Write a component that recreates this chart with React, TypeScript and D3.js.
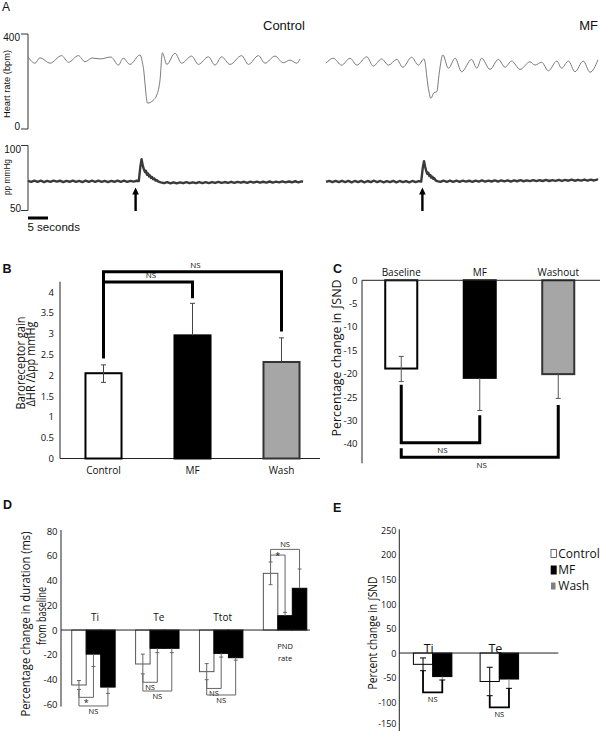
import React from "react";
import * as d3 from "d3";

const FA = "'Liberation Sans', Arial, Helvetica, sans-serif";
const FB = "'Open Sans', Lato, 'Liberation Sans', sans-serif";

// ================= Panel A: traces (time in s, value) =================
const hrControl: [number, number][] = [
  [0, 304], [1.75, 277], [3, 300], [5.5, 277], [8.4, 309], [10.1, 281], [12.6, 309], [14.25, 283],
  [16, 299], [18, 295], [20.75, 303], [22.6, 269], [23.8, 298], [25.5, 272], [28, 312], [28.8, 262],
  [29.9, 109], [31.3, 121], [32.2, 143], [33, 206], [33.6, 321], [34.7, 272], [36.75, 319], [38.4, 277],
  [40.9, 307], [42.6, 272], [45.1, 304], [46.75, 269], [48.4, 304], [50.5, 272], [53.4, 309], [55.1, 272],
  [57.6, 309], [59.25, 277], [61.75, 307], [63.8, 279], [65.5, 290], [67.2, 277], [68, 295],
];
const hrMF: [number, number][] = [
  [0, 277], [1.8, 298], [3.9, 269], [6, 298], [7.7, 269], [10.2, 304], [11.8, 265], [13.9, 295],
  [15.6, 269], [17.7, 293], [19.2, 260], [21.4, 302], [23.1, 269], [24.5, 295], [25.6, 171], [26.2, 129],
  [27, 153], [27.7, 157], [28.3, 235], [29.2, 312], [30.6, 256], [32.3, 298], [33.9, 241], [36.4, 293],
  [37.7, 256], [38.9, 298], [41, 251], [43.1, 293], [44.75, 260], [46.4, 286], [48.5, 251], [51, 283],
  [52.25, 269], [53.9, 281], [55.6, 245], [57.7, 286], [58.9, 256], [60.6, 286], [62.25, 241], [64.3, 286],
  [66, 239], [68, 291],
];
const ppControl: [number, number][] = [
  [0, 72.8], [0.8, 72.0], [1.6, 73.0], [2.4, 72.1], [3.2, 72.9], [4, 71.9], [4.8, 72.8], [5.6, 72.0],
  [6.4, 73.0], [7.2, 72.2], [8, 72.9], [8.8, 71.9], [9.6, 72.8], [10.4, 72.1], [11.2, 73.0], [12, 72.0],
  [12.8, 72.8], [13.6, 71.9], [14.4, 72.9], [15.2, 72.0], [16, 72.9], [16.8, 72.1], [17.6, 73.0], [18.4, 72.0],
  [19.2, 72.8], [20, 71.9], [20.8, 72.8], [21.6, 72.1], [22.4, 73.0], [23.2, 72.1], [24, 72.9], [24.8, 72.0],
  [25.6, 72.8], [26.4, 72.2], [27.2, 72.9], [27.7, 72.6],
  [28.1, 84], [28.4, 89.5], [28.7, 84.5], [29.0, 81.5], [29.25, 79.5], [29.5, 80.5], [29.75, 77.5], [30.0, 78.5],
  [30.25, 76.2], [30.5, 77.0], [30.75, 75.0], [31.0, 75.8], [31.3, 74.0], [31.6, 74.6], [31.9, 73.0], [32.2, 73.4],
  [32.6, 72.2], [33.2, 71.6], [34, 71.0], [34.8, 71.8], [35.6, 70.9], [36.4, 71.7], [37.2, 70.9], [38, 71.6],
  [38.8, 71.0], [39.6, 71.8], [40.4, 71.0], [41.2, 71.7], [42, 71.0], [42.8, 71.9], [43.6, 71.1], [44.4, 71.8],
  [45.2, 71.1], [46, 71.9], [46.8, 71.2], [47.6, 72.0], [48.4, 71.2], [49.2, 71.9], [50, 71.3], [50.8, 72.1],
  [51.6, 71.3], [52.4, 72.0], [53.2, 71.4], [54, 72.1], [54.8, 71.3], [55.6, 72.2], [56.4, 71.5], [57.2, 72.2],
  [58, 71.4], [58.8, 72.1], [59.6, 71.5], [60.4, 72.3], [61.2, 71.5], [62, 72.2], [62.8, 71.6], [63.6, 72.4],
  [64.4, 71.6], [65.2, 72.3], [66, 71.7], [66.8, 72.5], [67.6, 71.7], [68.4, 72.4], [68.75, 72.0],
];
const ppMF: [number, number][] = [
  [0, 72.0], [0.8, 72.8], [1.6, 71.8], [2.4, 72.7], [3.2, 71.8], [4, 72.8], [4.8, 71.9], [5.6, 72.8],
  [6.4, 71.7], [7.2, 72.7], [8, 71.8], [8.8, 72.8], [9.6, 71.7], [10.4, 72.7], [11.2, 71.9], [12, 72.9],
  [12.8, 71.8], [13.6, 72.7], [14.4, 71.7], [15.2, 72.6], [16, 71.8], [16.8, 72.8], [17.6, 71.7], [18.4, 72.7],
  [19.2, 71.8], [20, 72.6], [20.8, 71.7], [21.6, 72.7], [22.4, 71.8], [23.2, 72.6], [23.8, 72.2],
  [24.2, 83], [24.5, 88], [24.8, 83.5], [25.1, 80], [25.35, 78], [25.6, 79], [25.85, 76.5], [26.1, 77.3],
  [26.35, 75.2], [26.6, 76.0], [26.85, 74.3], [27.1, 74.8], [27.4, 73.2], [27.8, 72.6],
  [28.6, 72.0], [29.4, 72.9], [30.2, 72.1], [31, 73.0], [31.8, 72.1], [32.6, 72.9], [33.4, 72.0], [34.2, 73.0],
  [35, 72.2], [35.8, 72.9], [36.6, 72.1], [37.4, 73.0], [38.2, 72.2], [39, 73.1], [39.8, 72.2], [40.6, 73.0],
  [41.4, 72.3], [42.2, 73.1], [43, 72.3], [43.8, 73.2], [44.6, 72.4], [45.4, 73.1], [46.2, 72.3], [47, 73.2],
  [47.8, 72.5], [48.6, 73.3], [49.4, 72.5], [50.2, 73.2], [51, 72.6], [51.8, 73.4], [52.6, 72.6], [53.4, 73.3],
  [54.2, 72.7], [55, 73.5], [55.8, 72.7], [56.6, 73.4], [57.4, 72.8], [58.2, 73.6], [59, 72.8], [59.8, 73.5],
  [60.6, 72.9], [61.4, 73.7], [62.2, 72.9], [63, 73.6], [63.8, 73.0], [64.6, 73.8], [65.4, 73.0], [66.2, 73.7],
  [67, 73.1], [67.8, 73.8], [68, 73.4],
];
const arrowTimes = [26.9, 24.1]; // control, MF
const hrTicks = [0, 400];
const ppTicks = [50, 100];
const scaleBarSeconds = 5;
const traceTitles = ["Control", "MF"];

// ================= Panel B =================
const bCategories = ["Control", "MF", "Wash"];
const bValues = [2.05, 2.96, 2.32];
const bErrUp = [0.2, 0.77, 0.58];
const bErrDown = [0.22, 0, 0];
const bTicks = [0, 0.5, 1, 1.5, 2, 2.5, 3, 3.5, 4];
const bBracketFrom = [0, 0];
const bBracketTo = [2, 1];
const bBracketLevel = [4.49, 4.24];
const bBracketFromEnd = [2.41, 2.41];
const bBracketToEnd = [3.05, 3.85];
const bBracketLabel = ["NS", "NS"];

// ================= Panel C =================
const cCategories = ["Baseline", "MF", "Washout"];
const cValues = [-18.9, -20.9, -20.1];
const cErrUp = [2.6, 0, 0];
const cErrDown = [2.8, 7.0, 5.2];
const cTickValues = [0, -5, -10, -15, -20, -25, -30, -35];
const cTickLabels = ["0", "-5", "-10", "-15", "-20", "-25", "-30", "-40"];
const cBracketTo = [1, 2];
const cBracketLevel = [-34.8, -37.9];
const cBracketFromEnd = [-22.4, -36.0];
const cBracketToEnd = [-28.9, -26.7];
const cBracketLabel = ["NS", "NS"];

// ================= Panel D =================
const dGroups = ["Ti", "Te", "Ttot", "PND rate"];
const dSeries = ["Control", "MF", "Wash"];
const dControl = [-44.5, -27.5, -33.7, 45.9];
const dMF = [-19.5, -14.8, -18.9, 11.6];
const dWash = [-46.2, -14.8, -22.4, 33.8];
const dControlErr = [3.6, 8.0, 6.5, 9.2];
const dMFErr = [10, 3.5, 3, 2.7];
const dWashErr = [5.1, 3.5, 2, 15.6];
const dTicks = [80, 60, 40, 20, 0, -20, -40, -60];
const dBracketGroup = [0, 0, 1, 1, 2, 2, 3, 3];
const dBracketTo = [1, 2, 1, 2, 1, 2, 1, 2];
const dBracketLevel = [-54.5, -61.5, -42.3, -49.4, -47.3, -52.6, 60.7, 65.3];
const dBracketLabel = ["*", "NS", "NS", "NS", "NS", "NS", "*", "NS"];

// ================= Panel E =================
const eGroups = ["Ti", "Te"];
const eControl = [-23, -58];
const eMF = [-48, -53];
const eControlErr = [13, 29];
const eMFErr = [7, 19];
const eTicks = [250, 200, 150, 100, 50, 0, -50, -100, -150];
const eBracketLevel = [-80.2, -110.8];
const eBracketLabel = ["NS", "NS"];
const legendLabels = ["Control", "MF", "Wash"];

function VLabel({ x, y, text, size, len, family }: any) {
  return (
    <text transform={`translate(${x},${y}) rotate(-90)`} textAnchor="middle" fontSize={size}
      fontFamily={family} textLength={len} lengthAdjust="spacingAndGlyphs" fill="#111">{text}</text>
  );
}

export default function App() {
  // ---------- Panel A ----------
  const xCtl = d3.scaleLinear().domain([0, 68]).range([28, 300]);
  const xMF = d3.scaleLinear().domain([0, 68]).range([326, 598]);
  const yHR = d3.scaleLinear().domain([0, 400]).range([129, 34]);
  const yPP = d3.scaleLinear().domain([50, 100]).range([210.5, 145.5]);
  const hrPath = (xs: any) => d3.line<[number, number]>().x(d => xs(d[0])).y(d => yHR(d[1])).curve(d3.curveMonotoneX);
  const ppPath = (xs: any) => d3.line<[number, number]>().x(d => xs(d[0])).y(d => yPP(d[1])).curve(d3.curveLinear);
  const arrow = (x: number) => {
    const tip = 187.5, bot = 211;
    return `M${x - 1.2},${bot} L${x - 1.2},${tip + 7} L${x - 3.3},${tip + 7} L${x},${tip} L${x + 3.3},${tip + 7} L${x + 1.2},${tip + 7} L${x + 1.2},${bot} Z`;
  };

  // ---------- Panel B ----------
  const xB = d3.scaleBand<string>().domain(bCategories).range([59, 326]).paddingInner(0.595).paddingOuter(0.2975);
  const yB = d3.scaleLinear().domain([0, 4.25]).range([458.5, 281.7]);
  const bFill = ["#fff", "#000", "#a6a6a6"];
  const bStroke = ["#000", "#000", "#333"];
  const bc = (i: number) => (xB(bCategories[i]) as number) + xB.bandwidth() / 2;

  // ---------- Panel C ----------
  const xC = d3.scaleBand<string>().domain(cCategories).range([362, 597.5]).paddingInner(0.592).paddingOuter(0.296);
  const yC = d3.scaleLinear().domain([-39.2, 0]).range([463.3, 280.3]);
  const cc = (i: number) => (xC(cCategories[i]) as number) + xC.bandwidth() / 2;

  // ---------- Panel D ----------
  const xD = d3.scaleBand<string>().domain(dGroups).range([61.5, 317]).paddingInner(0.32).paddingOuter(0.16);
  const xDi = d3.scaleBand<string>().domain(dSeries).range([0, xD.bandwidth()]).padding(0);
  const yD = d3.scaleLinear().domain([-62, 81]).range([706.6, 530]);
  const dVals = [dControl, dMF, dWash];
  const dErrs = [dControlErr, dMFErr, dWashErr];
  const dFill = ["#fff", "#000", "#000"];
  const dx = (g: number, s: number) => (xD(dGroups[g]) as number) + (xDi(dSeries[s]) as number) + xDi.bandwidth() / 2;
  const dEnd = (g: number, s: number) => {
    const v = dVals[s][g], e = dErrs[s][g];
    return v < 0 ? v - e : v + e;
  };

  // ---------- Panel E ----------
  const xE = d3.scaleBand<string>().domain(eGroups).range([399.3, 532.7]).paddingInner(0.423).paddingOuter(0.2115);
  const xEi = d3.scaleBand<string>().domain(["Control", "MF"]).range([0, xE.bandwidth()]).padding(0);
  const yE = d3.scaleLinear().domain([-159, 252.4]).range([731, 529.3]);
  const eVals = [eControl, eMF];
  const ex = (g: number, s: number) => (xE(eGroups[g]) as number) + (xEi(s === 0 ? "Control" : "MF") as number) + xEi.bandwidth() / 2;

  const cap = (x: number, y: number, w: number, color: string) => (
    <line x1={x - w} x2={x + w} y1={y} y2={y} stroke={color} strokeWidth={1} />
  );

  return (
    <svg width={600} height={731} style={{ position: "absolute", left: 0, top: 0, background: "#fff" }}>
      <rect x={0} y={0} width={600} height={731} fill="#fff" />

      {/* ================= Panel A ================= */}
      <g fontFamily={FA} fill="#111">
        <text x={2} y={10.5} fontSize={12}>A</text>
        <text x={263} y={29.5} fontSize={13}>{traceTitles[0]}</text>
        <text x={598} y={29.5} fontSize={13} textAnchor="end">{traceTitles[1]}</text>
        {/* HR axis */}
        <path d={`M21,${yHR(400)} H28 V${yHR(0)} H21`} fill="none" stroke="#333" strokeWidth={1} />
        <text x={20} y={yHR(hrTicks[1]) + 7} fontSize={10} textAnchor="end">{hrTicks[1]}</text>
        <text x={20} y={yHR(hrTicks[0]) + 1} fontSize={10} textAnchor="end">{hrTicks[0]}</text>
        <VLabel x={9.5} y={84} text="Heart rate (bpm)" size={9.5} len={68} family={FA} />
        {/* PP axis */}
        <path d={`M21,${yPP(100)} H28 V${yPP(50)} H21`} fill="none" stroke="#333" strokeWidth={1} />
        <text x={21} y={yPP(ppTicks[1]) + 7} fontSize={10} textAnchor="end">{ppTicks[1]}</text>
        <text x={21} y={yPP(ppTicks[0]) + 1.5} fontSize={10} textAnchor="end">{ppTicks[0]}</text>
        <VLabel x={9.5} y={177} text="pp mmHg" size={9.5} len={36} family={FA} />
        {/* traces */}
        <path d={hrPath(xCtl)(hrControl) as string} fill="none" stroke="#7a7a7a" strokeWidth={1} />
        <path d={hrPath(xMF)(hrMF) as string} fill="none" stroke="#7a7a7a" strokeWidth={1} />
        <path d={ppPath(xCtl)(ppControl) as string} fill="none" stroke="#3a3a3a" strokeWidth={2.4} strokeLinejoin="round" />
        <path d={ppPath(xMF)(ppMF) as string} fill="none" stroke="#3a3a3a" strokeWidth={2.4} strokeLinejoin="round" />
        <path d={arrow(xCtl(arrowTimes[0]))} fill="#000" />
        <path d={arrow(xMF(arrowTimes[1]))} fill="#000" />
        {/* scale bar */}
        <rect x={xCtl(0)} y={216.5} width={xCtl(scaleBarSeconds) - xCtl(0)} height={3} fill="#000" />
        <text x={27.5} y={231} fontSize={11.5}>{scaleBarSeconds} seconds</text>
      </g>

      {/* ================= Panel B ================= */}
      <g fontFamily={FB} fill="#111">
        <text x={2.5} y={272.7} fontSize={12.5} fontWeight="bold" fontFamily={FA}>B</text>
        <line x1={60} x2={60} y1={yB(4.25)} y2={yB(0)} stroke="#222" strokeWidth={1} />
        <line x1={60} x2={320} y1={yB(0)} y2={yB(0)} stroke="#222" strokeWidth={1} />
        {bTicks.map(t => (
          <text key={t} x={54} y={yB(t) + 3.5} fontSize={9.5} textAnchor="end">{t}</text>
        ))}
        {bCategories.map((c, i) => (
          <g key={c}>
            <rect x={xB(c)} y={yB(bValues[i])} width={xB.bandwidth()} height={yB(0) - yB(bValues[i])}
              fill={bFill[i]} stroke={bStroke[i]} strokeWidth={2} />
            <line x1={bc(i)} x2={bc(i)} y1={yB(bValues[i] + bErrUp[i])} y2={yB(bValues[i] - bErrDown[i])} stroke="#444" strokeWidth={1} />
            {cap(bc(i), yB(bValues[i] + bErrUp[i]), 2.5, "#444")}
            {bErrDown[i] > 0 && cap(bc(i), yB(bValues[i] - bErrDown[i]), 2.5, "#444")}
            <text x={bc(i)} y={474} fontSize={10} textAnchor="middle">{c}</text>
          </g>
        ))}
        {bBracketLevel.map((lv, k) => {
          const xa = bc(bBracketFrom[k]), xb = bc(bBracketTo[k]);
          return (
            <g key={k}>
              <path d={`M${xa},${yB(bBracketFromEnd[k])} V${yB(lv)} H${xb} V${yB(bBracketToEnd[k])}`}
                fill="none" stroke="#000" strokeWidth={3} />
              <text x={(xa + xb) / 2 + 3} y={yB(lv) - 4} fontSize={8} textAnchor="middle">{bBracketLabel[k]}</text>
            </g>
          );
        })}
        <VLabel x={24.5} y={363} text="Baroreceptor gain" size={12} len={93} family={FB} />
        <VLabel x={35} y={364} text="ΔHR /Δpp mmHg" size={12} len={85} family={FB} />
      </g>

      {/* ================= Panel C ================= */}
      <g fontFamily={FB} fill="#111">
        <text x={333} y={273} fontSize={12.5} fontWeight="bold" fontFamily={FA}>C</text>
        {cCategories.map((c, i) => (
          <g key={c}>
            <rect x={xC(c)} y={yC(0)} width={xC.bandwidth()} height={yC(cValues[i]) - yC(0)}
              fill={bFill[i]} stroke={bStroke[i]} strokeWidth={2} />
            <text x={cc(i)} y={275.5} fontSize={10} textAnchor="middle">{c}</text>
            <line x1={cc(i)} x2={cc(i)} y1={yC(cValues[i] + cErrUp[i])} y2={yC(cValues[i] - cErrDown[i])} stroke="#555" strokeWidth={1} />
            {cErrUp[i] > 0 && cap(cc(i), yC(cValues[i] + cErrUp[i]), 2.5, "#555")}
            {cap(cc(i), yC(cValues[i] - cErrDown[i]), 2.5, "#555")}
          </g>
        ))}
        <line x1={362} x2={362} y1={yC(0)} y2={yC(-39.2)} stroke="#222" strokeWidth={1} />
        <line x1={362} x2={600} y1={yC(0)} y2={yC(0)} stroke="#222" strokeWidth={1} />
        {cTickValues.map((t, i) => (
          <text key={t} x={357.5} y={yC(t) + 3.5} fontSize={9.5} textAnchor="end">{cTickLabels[i]}</text>
        ))}
        {cBracketLevel.map((lv, k) => {
          const xa = cc(0), xb = cc(cBracketTo[k]);
          return (
            <g key={k}>
              <path d={`M${xa},${yC(cBracketFromEnd[k])} V${yC(lv)} H${xb} V${yC(cBracketToEnd[k])}`}
                fill="none" stroke="#000" strokeWidth={3} />
              <text x={(xa + xb) / 2 + 2} y={yC(lv) + 10.5} fontSize={8} textAnchor="middle">{cBracketLabel[k]}</text>
            </g>
          );
        })}
        <VLabel x={340.5} y={358} text="Percentage change in ∫SND" size={12.5} len={157} family={FB} />
      </g>

      {/* ================= Panel D ================= */}
      <g fontFamily={FB} fill="#111">
        <text x={3} y={509.3} fontSize={12.5} fontWeight="bold" fontFamily={FA}>D</text>
        {dGroups.map((g, gi) => (
          <g key={g}>
            {dSeries.map((s, si) => {
              const v = dVals[si][gi];
              const x0 = (xD(g) as number) + (xDi(s) as number);
              return (
                <rect key={s} x={x0} y={Math.min(yD(v), yD(0))} width={xDi.bandwidth()}
                  height={Math.abs(yD(v) - yD(0))} fill={dFill[si]} stroke={si === 0 ? "#555" : "#000"} strokeWidth={1} />
              );
            })}
            {dSeries.map((s, si) => {
              const v = dVals[si][gi], e = dErrs[si][gi];
              const x = dx(gi, si);
              const far = v < 0 ? v - e : v + e;
              const near = si === 0 ? (v < 0 ? v + e : v - e) : v;
              return (
                <g key={s}>
                  <line x1={x} x2={x} y1={yD(near)} y2={yD(far)} stroke="#666" strokeWidth={1} />
                  {si === 0 && cap(x, yD(near), 2, "#666")}
                  {cap(x, yD(far), 2, "#666")}
                </g>
              );
            })}
          </g>
        ))}
        <line x1={61} x2={61} y1={530} y2={706.6} stroke="#222" strokeWidth={1} />
        <line x1={61} x2={310} y1={yD(0)} y2={yD(0)} stroke="#222" strokeWidth={1} />
        {dTicks.map(t => (
          <text key={t} x={57.5} y={yD(t) + 3.5} fontSize={9.5} textAnchor="end">{t}</text>
        ))}
        {dGroups.slice(0, 3).map(g => (
          <text key={g} x={(xD(g) as number) + xD.bandwidth() / 2 + 1.5} y={yD(0) - 9} fontSize={10} textAnchor="middle">{g}</text>
        ))}
        <text x={(xD(dGroups[3]) as number) + xD.bandwidth() / 2} y={yD(0) + 19} fontSize={7.5} textAnchor="middle">PND</text>
        <text x={(xD(dGroups[3]) as number) + xD.bandwidth() / 2} y={yD(0) + 31} fontSize={7.5} textAnchor="middle">rate</text>
        {dBracketLevel.map((lv, k) => {
          const g = dBracketGroup[k], b = dBracketTo[k];
          const xa = dx(g, 0), xb = dx(g, b);
          const pos = lv > 0;
          const ly = pos ? (dBracketLabel[k] === "*" ? yD(lv) + 4 : yD(lv) - 2) : yD(lv) + (dBracketLabel[k] === "*" ? 8.5 : 8);
          return (
            <g key={k}>
              <path d={`M${xa},${yD(dEnd(g, 0))} V${yD(lv)} H${xb} V${yD(dEnd(g, b))}`}
                fill="none" stroke="#666" strokeWidth={1} />
              <text x={(xa + xb) / 2} y={ly} fontSize={dBracketLabel[k] === "*" ? 9 : 7.5} textAnchor="middle">{dBracketLabel[k]}</text>
            </g>
          );
        })}
        <VLabel x={29.5} y={624} text="Percentage change in duration (ms)" size={13} len={185} family={FB} />
        <VLabel x={46} y={616} text="from baseline" size={13} len={58} family={FB} />
      </g>

      {/* ================= Panel E ================= */}
      <g fontFamily={FB} fill="#111">
        <text x={333} y={511.7} fontSize={12.5} fontWeight="bold" fontFamily={FA}>E</text>
        {eGroups.map((g, gi) => (
          <g key={g}>
            {[0, 1].map(si => {
              const v = eVals[si][gi];
              const x0 = (xE(g) as number) + (xEi(si === 0 ? "Control" : "MF") as number);
              return (
                <rect key={si} x={x0} y={yE(0)} width={xEi.bandwidth()} height={yE(v) - yE(0)}
                  fill={si === 0 ? "#fff" : "#000"} stroke="#000" strokeWidth={1} />
              );
            })}
            <line x1={ex(gi, 0)} x2={ex(gi, 0)} y1={yE(eControl[gi] + eControlErr[gi])} y2={yE(eControl[gi] - eControlErr[gi])} stroke="#000" strokeWidth={1} />
            {cap(ex(gi, 0), yE(eControl[gi] + eControlErr[gi]), 3, "#000")}
            {cap(ex(gi, 0), yE(eControl[gi] - eControlErr[gi]), 3, "#000")}
            <line x1={ex(gi, 1)} x2={ex(gi, 1)} y1={yE(eMF[gi])} y2={yE(eMF[gi] - eMFErr[gi])} stroke="#888" strokeWidth={1} />
            {cap(ex(gi, 1), yE(eMF[gi] - eMFErr[gi]), 3, "#000")}
            <path d={`M${ex(gi, 0)},${yE(eControl[gi] - eControlErr[gi])} V${yE(eBracketLevel[gi])} H${ex(gi, 1)} V${yE(eMF[gi] - eMFErr[gi])}`}
              fill="none" stroke="#000" strokeWidth={1.8} />
            <text x={(ex(gi, 0) + ex(gi, 1)) / 2} y={yE(eBracketLevel[gi]) + 10} fontSize={7.5} textAnchor="middle">{eBracketLabel[gi]}</text>
            <text x={(xE(g) as number) + xE.bandwidth() / 2 - 4} y={yE(0) - 0.5} fontSize={12.5} textAnchor="middle">{g}</text>
          </g>
        ))}
        <line x1={399.3} x2={399.3} y1={529.3} y2={731} stroke="#222" strokeWidth={1} />
        <line x1={399.3} x2={558.3} y1={yE(0)} y2={yE(0)} stroke="#222" strokeWidth={1} />
        {eTicks.map(t => (
          <text key={t} x={396.5} y={Math.min(yE(t) + 3.5, 726.5)} fontSize={9} textAnchor="end">{t}</text>
        ))}
        <VLabel x={377} y={633} text="Percent change in ∫SND" size={12} len={113} family={FB} />
        {/* legend */}
        <rect x={551} y={549.5} width={5.5} height={8} fill="#fff" stroke="#444" strokeWidth={0.8} />
        <rect x={550.7} y={565.5} width={6} height={9} fill="#000" />
        <rect x={551} y={582.5} width={4.5} height={7} fill="#7f7f7f" />
        {legendLabels.map((l, i) => (
          <text key={l} x={558.3} y={557.5 + i * 16.4} fontSize={12}>{l}</text>
        ))}
      </g>
    </svg>
  );
}
